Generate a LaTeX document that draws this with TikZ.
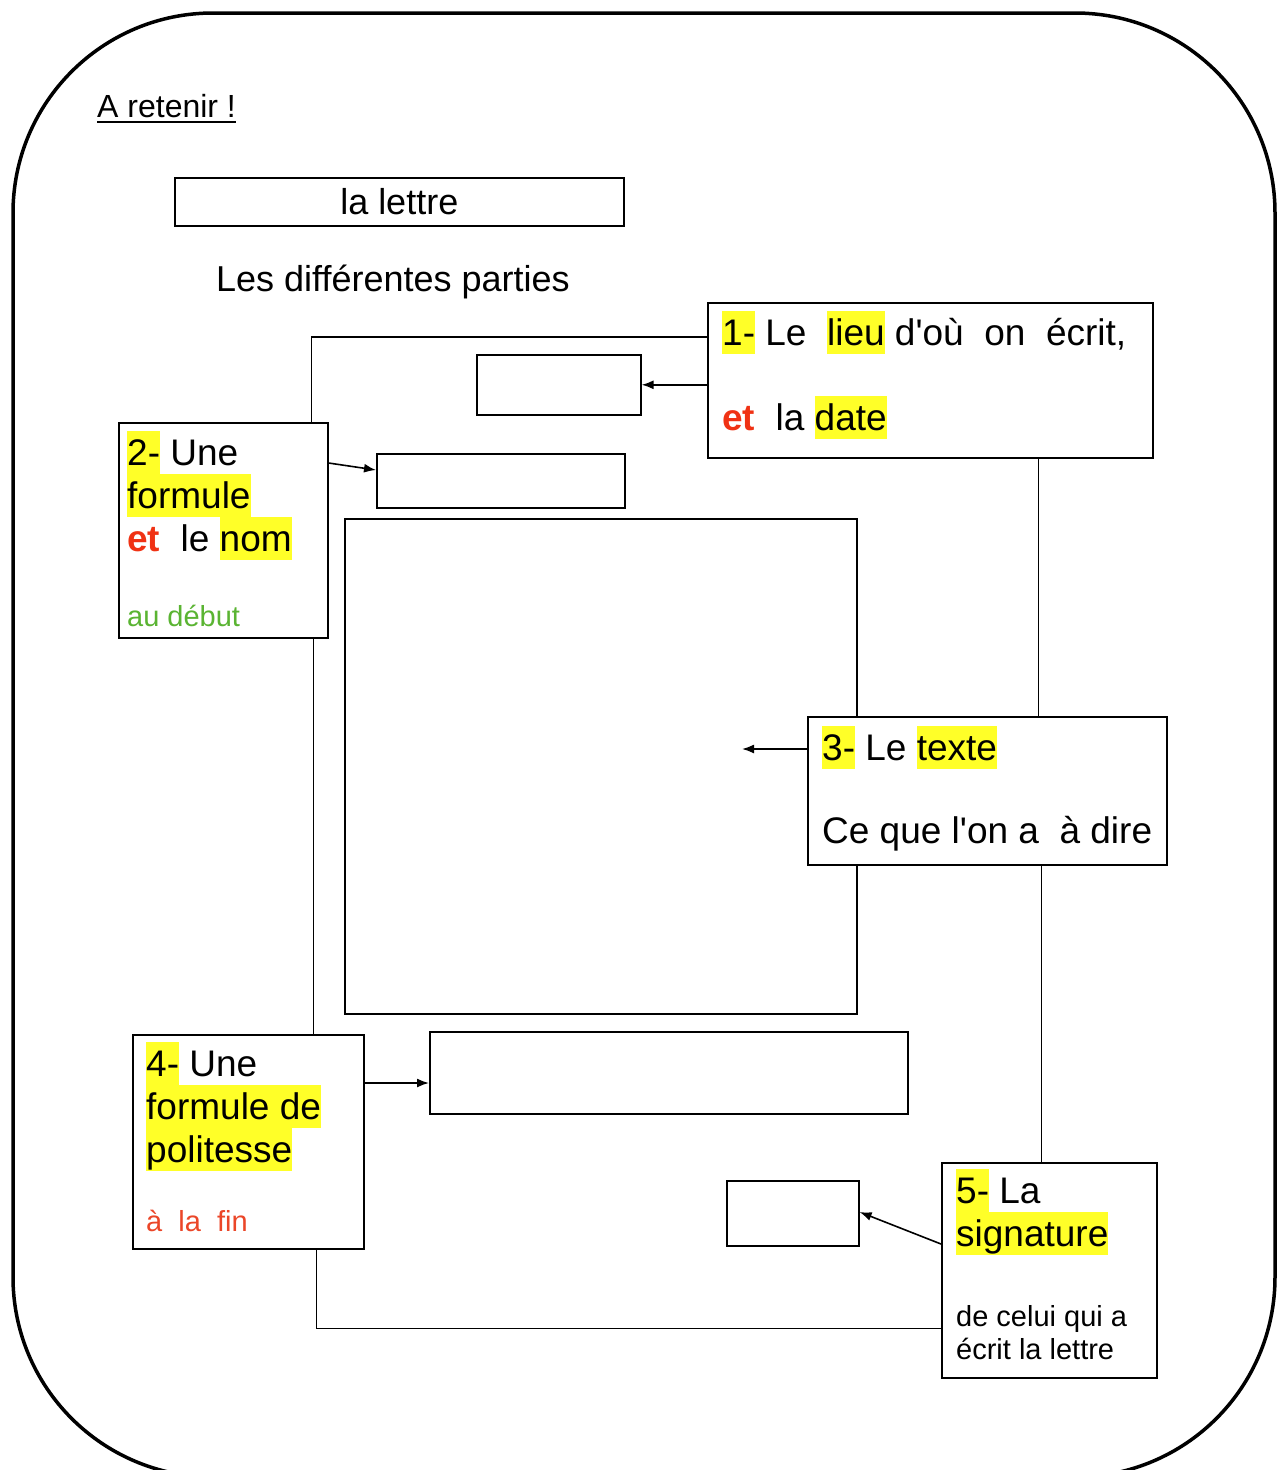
\documentclass[tikz,border=0pt]{standalone}
\usepackage{fontspec}
\setmainfont{Liberation Sans}
\usetikzlibrary{arrows.meta}

\definecolor{jaune}{RGB}{255,255,40}
\definecolor{rouge}{RGB}{240,50,20}
\definecolor{vert}{RGB}{90,180,50}
\definecolor{rougefin}{RGB}{235,70,40}

\newcommand\surligne[1]{{\setlength{\fboxsep}{0pt}\colorbox{jaune}{\rule[-9pt]{0pt}{43pt}#1}}}
\newcommand\et{{\color{rouge}\bfseries et}}

\begin{document}
\begin{tikzpicture}[x=1pt, y=-1pt]


\tikzset{
	cadre/.style={draw, fill=white, line width=1.6pt, inner sep=0pt, anchor=north west},
	txt/.style={inner sep=0pt, anchor=north west, align=left, font=\fontsize{37}{43}\selectfont},
	petit/.style={inner sep=0pt, align=left, font=\fontsize{29}{33}\selectfont},
	lien/.style={line width=1.6pt},
	fleche/.style={line width=1.6pt, -{Latex[length=12pt,width=9pt]}}
}

\useasboundingbox (0,0) rectangle (1279,1470);
\clip (0,0) rectangle (1279,1470);
\draw[line width=3.5pt, rounded corners=200pt] (13,13) rectangle (1275,1477);

% titre
\node[inner sep=0pt, anchor=base west, font=\fontsize{32}{38}\selectfont] (titre) at (97,117) {A retenir !};
\draw[line width=2.5pt] ([yshift=-5pt]titre.base west) -- ([yshift=-5pt]titre.base east);
\node[cadre, anchor=north west, minimum width=449, minimum height=48, font=\fontsize{36}{42}\selectfont] (lettre) at (174,177) {la lettre};
\node[inner sep=0pt, anchor=base west, font=\fontsize{36}{42}\selectfont] (parties) at (216,291) {Les différentes parties};

% cases vides
\node[cadre, minimum width=164, minimum height=60] (videA) at (476,354) {};
\node[cadre, minimum width=248, minimum height=54] (videB) at (376,453) {};
\node[cadre, minimum width=512, minimum height=495] (videC) at (344,518) {};
\node[cadre, minimum width=478, minimum height=82] (videD) at (429,1031) {};
\node[cadre, minimum width=132, minimum height=65] (videE) at (726,1180) {};
\coordinate (pointe) at (742,749);

% les cinq parties
\node[cadre, minimum width=445, minimum height=155] (lieu) at (707,302) {};
\node[cadre, minimum width=209, minimum height=215] (formule) at (118,422) {};
\node[cadre, minimum width=359, minimum height=148] (texte) at (807,716) {};
\node[cadre, minimum width=231, minimum height=214] (politesse) at (132,1034) {};
\node[cadre, minimum width=215, minimum height=215] (signature) at (941,1162) {};

\node[txt] (lieu-t) at ([shift={(15,9)}]lieu.north west)
	{\surligne{1-} Le\ \ \surligne{lieu} d\textquotesingle où\ \ on\ \ écrit,\\[42pt] \et\ \ la \surligne{date}};
\node[txt] (formule-t) at ([shift={(9,9)}]formule.north west)
	{\surligne{2-} Une\\ \surligne{formule}\\ \et\ \ le \surligne{nom}};
\node[petit, text=vert, anchor=base west] (debut) at ([shift={(9,-12)}]formule.south west) {au début};
\node[txt] (texte-t) at ([shift={(15,10)}]texte.north west)
	{\surligne{3-} Le \surligne{texte}\\[40pt] Ce que l\textquotesingle on a\ \ à dire};
\node[txt] (politesse-t) at ([shift={(14,8)}]politesse.north west)
	{\surligne{4-} Une\\ \surligne{formule de}\\ \surligne{politesse}};
\node[petit, text=rougefin, anchor=base west] (fin) at ([shift={(14,-18)}]politesse.south west) {à\ \ la\ \ fin};
\node[txt] (signature-t) at ([shift={(15,7)}]signature.north west)
	{\surligne{5-} La\\ \surligne{signature}};
\node[petit, anchor=north west] (celui) at ([shift={(15,-76)}]signature.south west)
	{\rule{0pt}{24pt}de celui qui a\\écrit la lettre};

% liaisons
\draw[lien] ([yshift=-35pt]lieu.north west) -| ([xshift=-17pt]formule.north east);
\draw[lien] ([xshift=-15pt]formule.south east) -- ([xshift=-15pt]formule.south east |- politesse.north);
\draw[lien] ([xshift=-115pt]lieu.south east) -- ([xshift=-115pt]lieu.south east |- texte.north);
\draw[lien] ([xshift=-126pt]texte.south east) -- ([xshift=-126pt]texte.south east |- signature.north);
\draw[lien] ([xshift=-48pt]politesse.south east) |- ([yshift=50pt]signature.south west);

\draw[fleche] (lieu.west |- videA.east) -- (videA.east);
\draw[fleche] ([yshift=-41pt]formule.north east) -- ([yshift=-17pt]videB.north west);
\draw[fleche] (texte.west |- pointe) -- (pointe);
\draw[fleche] ([yshift=-49pt]politesse.north east) -- ([yshift=-49pt]politesse.north east -| videD.west);
\draw[fleche] ([yshift=-82pt]signature.north west) -- ([yshift=-32pt]videE.north east);

\end{tikzpicture}
\end{document}
